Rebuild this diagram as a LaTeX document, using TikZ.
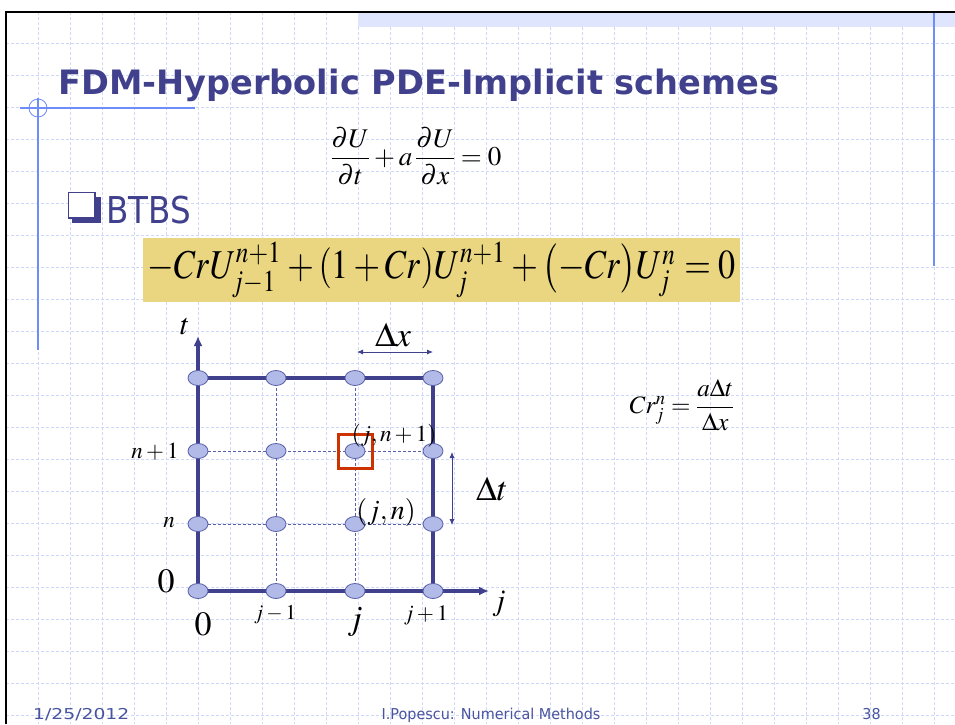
\documentclass[tikz,border=0pt]{standalone}
\usepackage{amsmath}
\usepackage{graphicx}
\usepackage{mathptmx}
\usepackage{fontspec}
\setmainfont{Liberation Serif}
\newfontfamily\titlefont{DejaVu Sans}
\newfontfamily\slidefont[FakeStretch=0.88]{DejaVu Sans}
\newfontfamily\footfont[FakeStretch=0.96]{DejaVu Sans}
\newfontfamily\datefont[FakeStretch=1.25]{DejaVu Sans}
\usetikzlibrary{shapes.geometric, arrows.meta, backgrounds}
\definecolor{slideblue}{RGB}{64,64,140}
\definecolor{gridblue}{RGB}{208,216,250}
\definecolor{rulerblue}{RGB}{110,140,250}
\definecolor{hatchblue}{RGB}{222,229,252}
\definecolor{nodefill}{RGB}{178,186,232}
\definecolor{nodeedge}{RGB}{88,94,168}
\definecolor{eqyellow}{RGB}{234,214,128}
\definecolor{markred}{RGB}{204,51,0}
\definecolor{footblue}{RGB}{72,84,160}
\newcommand{\fsz}[1]{\fontsize{#1}{#1}\selectfont}

\begin{document}
\begin{tikzpicture}[x=1pt, y=-1pt,
  every node/.style={inner sep=0pt},
  gpoint/.style={ellipse, draw=nodeedge, fill=nodefill, line width=0.8pt,
                 minimum width=20pt, minimum height=15pt},
  frameline/.style={line width=3.2pt, slideblue},
  meshline/.style={dash pattern=on 3pt off 2pt, line width=0.7pt, nodeedge},
  bgline/.style={gridblue, line width=1pt, dash pattern=on 3pt off 2pt},
  dimarr/.style={{Latex[length=6pt,width=5pt]}-{Latex[length=6pt,width=5pt]},
                 slideblue, line width=0.8pt},
  axisarr/.style={-{Latex[length=10pt,width=9pt]}, line width=3.2pt, slideblue},
  lbl/.style={font=\fsz{23}},
  foot/.style={font=\footfont\fsz{15}, text=footblue},
]
  \useasboundingbox (0,0) rectangle (955,724);

  % Slide background
  \begin{scope}[on background layer]
    \fill[white] (0,0) rectangle (955,724);
    \foreach \k in {1,...,29}
      \draw[bgline] (6+32*\k,12) -- (6+32*\k,724);
    \foreach \k in {1,...,22}
      \draw[bgline] (6,11+32*\k) -- (955,11+32*\k);
    \fill[hatchblue] (358,13) rectangle (955,27);
    \draw[line width=2pt] (6,724) -- (6,12) -- (955,12);
    \draw[rulerblue, line width=1.2pt] (934,13) -- (934,266);
    \draw[rulerblue, line width=1.2pt] (20,108) -- (195,108);
    \draw[rulerblue, line width=1.2pt] (38,98) -- (38,350);
    \draw[rulerblue, line width=0.8pt] (38,108) circle (9);
  \end{scope}

  % Title and heading
  \node[anchor=base west, font=\titlefont\bfseries\fsz{33.6}, text=slideblue]
    (title) at (58,94) {FDM-Hyperbolic PDE-Implicit schemes};
  \node[font=\fsz{27}] (pde) at (416,156)
    {$\dfrac{\partial U}{\partial t}+a\,\dfrac{\partial U}{\partial x}=0$};
  \fill[slideblue] (72,197) rectangle (101,223);
  \draw[slideblue, fill=white, line width=1.6pt] (68.5,192.5) rectangle (95,218);
  \node[anchor=base west, font=\slidefont\fsz{37}, text=slideblue]
    (btbs) at (106,223) {BTBS};

  % Scheme
  \node[fill=eqyellow, minimum width=597pt, minimum height=64pt]
    (scheme) at (441.5,270)
    {\resizebox*{588pt}{56pt}{$-CrU_{j-1}^{n+1}+(1+Cr)U_{j}^{n+1}
      +\bigl(-Cr\bigr)U_{j}^{n}=0$}};

  % Mesh points
  \foreach \c/\x in {0/198,1/276,2/355,3/433}
    \foreach \r/\y in {0/591,1/524,2/451,3/378}
      \node[gpoint] (p\c\r) at (\x,\y) {};
  \coordinate (taxis) at (198,336);
  \coordinate (jaxis) at (489,591);

  % Mesh lines
  \begin{scope}[on background layer]
    \draw[meshline] (p13.center) -- (p10.center);
    \draw[meshline] (p23.center) -- (p20.center);
    \draw[meshline] (p02.center) -- (p32.center);
    \draw[meshline] (p01.center) -- (p31.center);
    \draw[axisarr] (p00.center) -- (taxis);
    \draw[axisarr] (p00.center) -- (jaxis);
    \draw[frameline] (p03.center) -- (p33.center) -- (p30.center);
  \end{scope}

  % Current point
  \node[draw=markred, line width=3pt, minimum size=34pt] (mark) at (p22) {};

  % Step sizes
  \coordinate (dxl) at (357,352);
  \coordinate (dxr) at (433,352);
  \coordinate (dtt) at (452,452);
  \coordinate (dtb) at (452,525);
  \draw[dimarr] (dxl) -- (dxr);
  \draw[dimarr] (dtt) -- (dtb);
  \node[font=\fsz{34}] (dxlbl) at (393,335) {$\Delta x$};
  \node[font=\fsz{34}] (dtlbl) at (492,489) {$\Delta t$};

  % Axis labels
  \node[font=\fsz{30}] (tlbl) at (185,327) {$t$};
  \node[font=\fsz{30}] (jlbl) at (499,604) {$j$};
  \node[lbl] (row2) at (155,452) {$n+1$};
  \node[lbl] (row1) at (169,523) {$n$};
  \node[font=\fsz{34}] (row0) at (166,581) {$0$};
  \node[font=\fsz{34}] (col0) at (203,624) {$0$};
  \node[font=\fsz{21}] (col1) at (275,615) {$j-1$};
  \node[font=\fsz{34}] (col2) at (355,622) {$j$};
  \node[font=\fsz{22}] (col3) at (426,615) {$j+1$};
  \node[lbl] (ptlbl) at (394,436) {$(j,n+1)$};
  \node[font=\fsz{28}] (ptlbl2) at (386,512) {$(j,n)$};

  % Courant number
  \node[font=\fsz{25}] (cr) at (682,405)
    {$Cr_j^n=\dfrac{a\Delta t}{\Delta x}$};

  % Footer
  \node[anchor=base west, font=\datefont\fsz{15}, text=footblue]
    (date) at (33,719) {1/25/2012};
  \node[anchor=base, foot] (author) at (491,719) {I.Popescu: Numerical Methods};
  \node[anchor=base east, foot] (page) at (881,719) {38};
\end{tikzpicture}
\end{document}
